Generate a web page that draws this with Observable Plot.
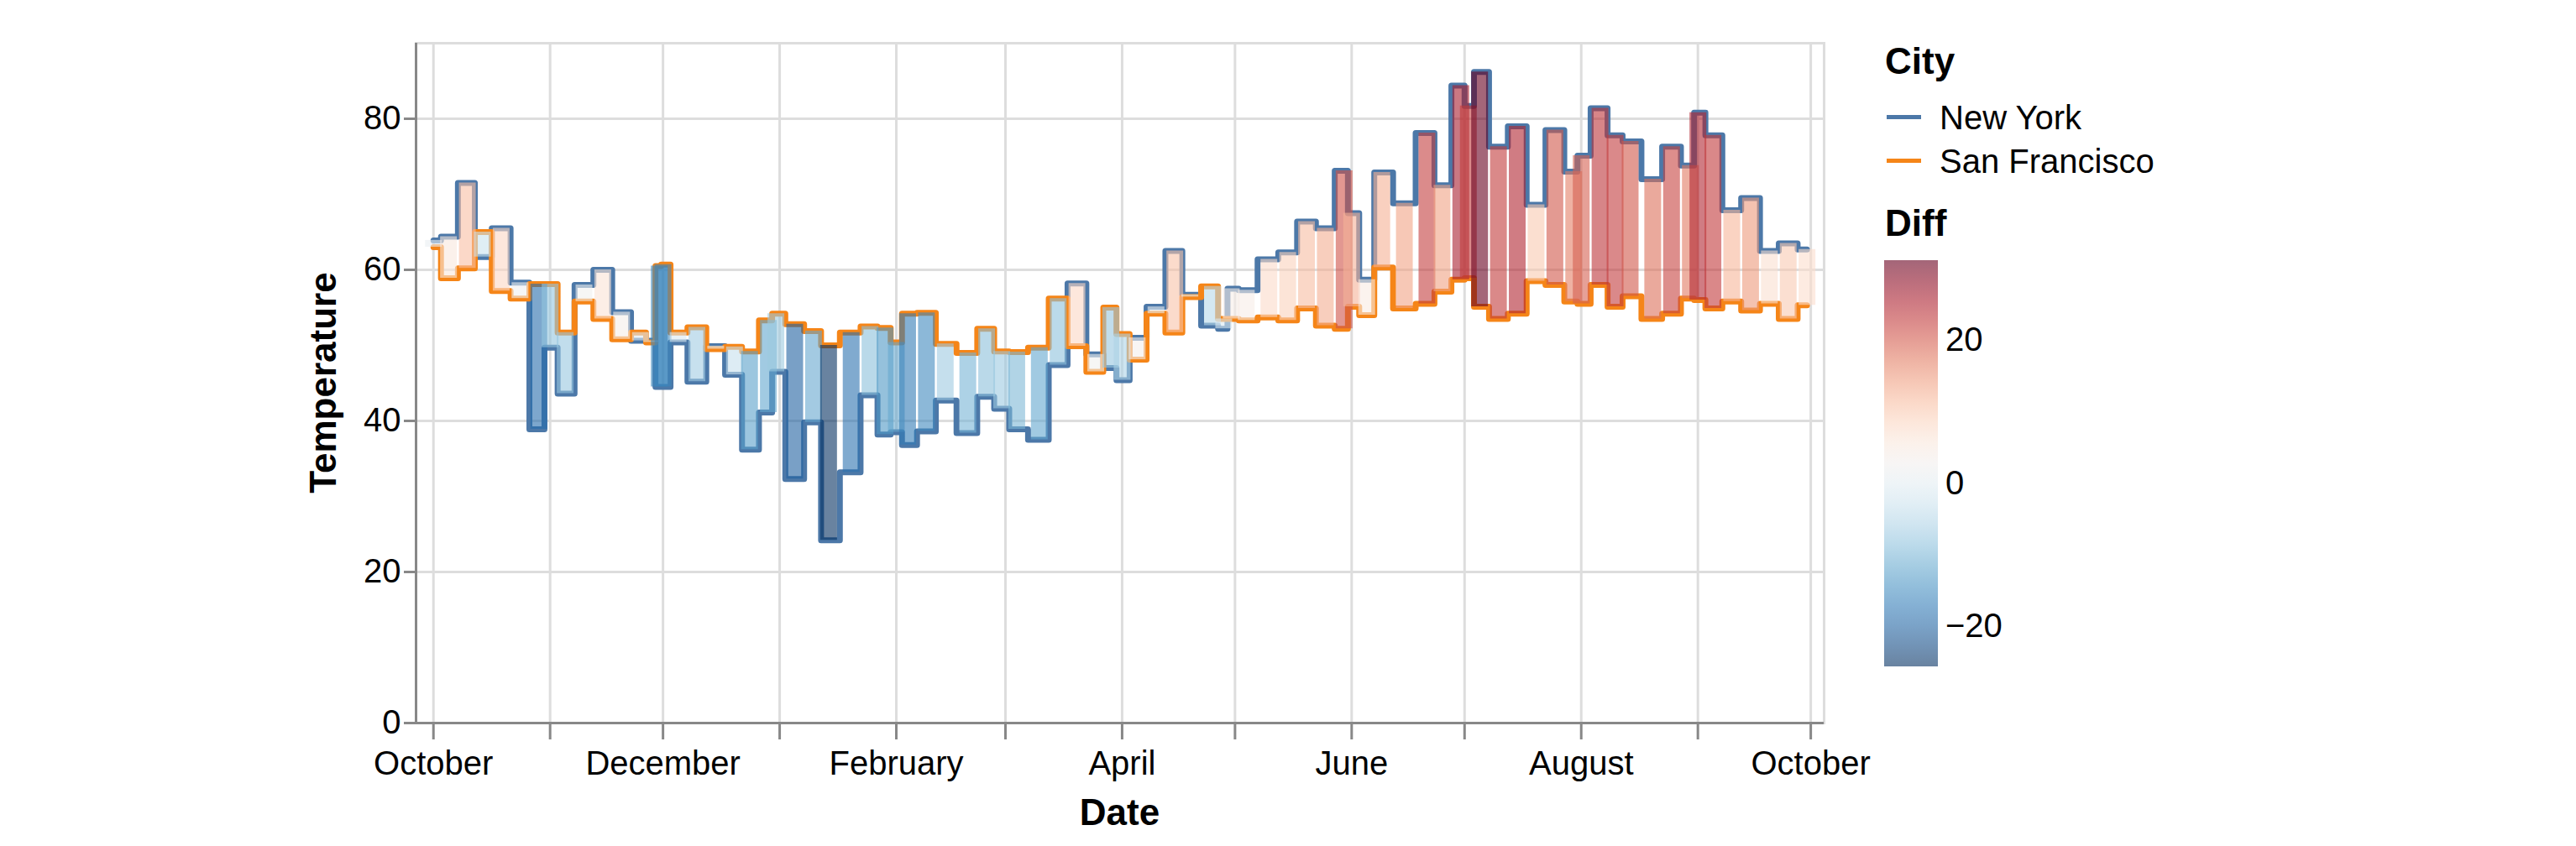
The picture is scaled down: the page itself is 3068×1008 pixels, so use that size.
<!DOCTYPE html>
<html>
<head>
<meta charset="utf-8">
<script src="https://cdn.jsdelivr.net/npm/d3@7"></script>
<script src="https://cdn.jsdelivr.net/npm/@observablehq/plot@0.6"></script>
<style>
  html, body { margin: 0; padding: 0; background: #fff; }
  #wrap { position: relative; width: 3068px; height: 1008px; font-family: "Liberation Sans", Arial, Helvetica, sans-serif; }
  #wrap > svg { position: absolute; left: 0; top: 0; }
</style>
</head>
<body>
<div id="wrap"></div>
<script>
// ---- data ----
const dates = [
  "2011-10-01","2011-10-05","2011-10-10","2011-10-14","2011-10-19","2011-10-24","2011-10-29","2011-11-01","2011-11-05","2011-11-10",
  "2011-11-15","2011-11-20","2011-11-25","2011-11-28","2011-11-30","2011-12-01","2011-12-05","2011-12-10","2011-12-15","2011-12-20",
  "2011-12-24","2011-12-29","2011-12-31","2012-01-05","2012-01-10","2012-01-14","2012-01-20","2012-01-25","2012-01-29","2012-02-01",
  "2012-02-04","2012-02-09","2012-02-14","2012-02-20","2012-02-25","2012-02-29","2012-03-04","2012-03-10","2012-03-15","2012-03-20",
  "2012-03-25","2012-03-29","2012-04-01","2012-04-05","2012-04-10","2012-04-15","2012-04-19","2012-04-25","2012-04-28","2012-04-30",
  "2012-05-04","2012-05-10","2012-05-15","2012-05-20","2012-05-25","2012-05-30","2012-06-01","2012-06-05","2012-06-09","2012-06-15",
  "2012-06-21","2012-06-25","2012-06-30","2012-07-02","2012-07-05","2012-07-10","2012-07-15","2012-07-20","2012-07-25","2012-07-30",
  "2012-08-01","2012-08-06","2012-08-10","2012-08-14","2012-08-20","2012-08-25","2012-08-30","2012-09-01","2012-09-05","2012-09-10",
  "2012-09-15","2012-09-20","2012-09-25","2012-09-30"
];
const newYork = [
  63.9,64.4,71.5,61.7,65.5,58.3,38.9,49.7,43.6,58.0,
  60.0,54.4,50.6,50.6,44.5,44.5,50.4,45.2,49.9,46.1,
  36.2,41.1,46.5,32.3,39.8,24.2,33.2,43.4,38.2,38.5,
  36.8,38.6,42.7,38.4,43.2,41.6,38.9,37.5,47.4,58.2,
  48.8,47.0,45.4,51.0,55.1,62.5,56.7,52.6,52.2,57.5,
  57.3,61.4,62.3,66.4,65.5,73.1,67.5,58.7,72.9,68.8,
  78.1,71.2,84.4,81.7,86.2,76.3,79.0,68.6,78.5,73.0,
  75.1,81.4,77.8,77.0,72.0,76.3,73.8,80.8,77.8,67.9,
  69.5,62.5,63.5,62.7
];
const sanFrancisco = [
  63.0,58.9,60.2,65.0,57.2,56.2,58.1,58.1,51.7,55.8,
  53.5,50.8,51.7,50.4,60.5,60.7,51.7,52.4,49.5,49.8,
  49.2,53.3,54.2,52.8,51.9,50.0,51.7,52.5,52.3,50.4,
  54.2,54.3,50.2,49.0,52.2,49.2,49.1,49.7,56.2,49.9,
  46.5,55.0,51.5,48.1,54.2,51.7,56.4,57.8,53.5,53.5,
  53.3,53.7,53.3,54.9,52.6,52.2,55.1,54.0,60.3,54.9,
  55.5,57.1,58.7,58.9,55.1,53.5,54.2,58.5,58.0,55.8,
  55.5,58.0,55.1,56.5,53.5,54.2,56.2,56.0,54.9,55.8,
  54.6,55.5,53.5,55.3
];
const cities = ["New York", "San Francisco"];
const cityColors = ["#4c78a8", "#f58518"];
const yTicks = [0, 20, 40, 60, 80];
const diffTicks = [-20, 0, 20];

// ---- derived tables ----
const rows = dates.map((d, i) => ({
  date: new Date(d + "T00:00:00Z"),
  ny: newYork[i],
  sf: sanFrancisco[i],
  diff: +(newYork[i] - sanFrancisco[i]).toFixed(1)
}));
const diffExtent = d3.extent(rows, r => r.diff);
const xDomain = [new Date(Date.UTC(2011, 8, 26, 9)), new Date(Date.UTC(2012, 9, 4, 13))];
const months = d3.utcMonth.range(new Date(Date.UTC(2011, 9, 1)), new Date(Date.UTC(2012, 9, 2)));
const barOpacity = 0.6;
const FONT = '"Liberation Sans", Arial, Helvetica, sans-serif';

const chart = Plot.plot({
  width: 3068,
  height: 1008,
  marginLeft: 495,
  marginRight: 896,
  marginTop: 51,
  marginBottom: 147,
  style: { fontFamily: FONT, fontSize: "40px", background: "transparent", overflow: "visible", color: "black" },
  x: { type: "utc", domain: xDomain },
  y: { domain: [0, 90] },
  color: { type: "linear", domain: diffExtent, scheme: "RdBu", reverse: true },
  marks: [
    Plot.gridX(months, { stroke: "#ddd", strokeOpacity: 1, strokeWidth: 3 }),
    Plot.gridY(yTicks, { stroke: "#ddd", strokeOpacity: 1, strokeWidth: 3 }),
    Plot.frame({ stroke: "#ddd", strokeWidth: 3 }),
    Plot.line(rows, { x: "date", y: "ny", curve: "step", stroke: cityColors[0], strokeWidth: 7 }),
    Plot.line(rows, { x: "date", y: "sf", curve: "step", stroke: cityColors[1], strokeWidth: 7 }),
    Plot.ruleX(rows, { x: "date", y1: "sf", y2: "ny", stroke: "diff", strokeWidth: 20, strokeOpacity: barOpacity }),
    Plot.axisX({
      ticks: months,
      tickFormat: d => (d.getUTCMonth() % 2 === 1 ? d3.utcFormat("%B")(d) : ""),
      tickSize: 20, tickPadding: 13, stroke: "#888", strokeWidth: 3, fill: "black",
      fontSize: 40, label: null
    }),
    Plot.axisY({
      ticks: yTicks, tickSize: 14, tickPadding: 4, stroke: "#888", strokeWidth: 3, fill: "black",
      fontSize: 40, label: null
    }),
    Plot.ruleY([0], { stroke: "#888", strokeWidth: 3 }),
    Plot.ruleX([xDomain[0]], { stroke: "#888", strokeWidth: 3 })
  ]
});
document.getElementById("wrap").appendChild(chart);

// ---- titles and legends (overlay) ----
const colorScale = chart.scale("color");
const colorOf = v => (colorScale && colorScale.apply) ? colorScale.apply(v)
  : d3.interpolateRdBu(1 - (v - diffExtent[0]) / (diffExtent[1] - diffExtent[0]));

const ov = d3.select("#wrap").append("svg")
  .attr("width", 3068).attr("height", 1008)
  .style("font-family", FONT);

// axis titles
ov.append("text").attr("x", (495 + 2172) / 2).attr("y", 983)
  .attr("text-anchor", "middle").attr("font-weight", "bold").attr("font-size", 44).text("Date");
ov.append("text").attr("transform", "translate(400,456) rotate(-90)")
  .attr("text-anchor", "middle").attr("font-weight", "bold").attr("font-size", 44).text("Temperature");

// City legend
ov.append("text").attr("x", 2245).attr("y", 88).attr("font-weight", "bold").attr("font-size", 44).text("City");
cities.forEach((c, i) => {
  const y = 139.5 + i * 52;
  ov.append("line").attr("x1", 2247).attr("x2", 2288).attr("y1", y).attr("y2", y)
    .attr("stroke", cityColors[i]).attr("stroke-width", 5);
  ov.append("text").attr("x", 2310).attr("y", y + 14).attr("font-size", 40).text(c);
});

// Diff legend
ov.append("text").attr("x", 2245).attr("y", 281).attr("font-weight", "bold").attr("font-size", 44).text("Diff");
const gy = d3.scaleLinear().domain(diffExtent).range([794, 310]);
const grad = ov.append("defs").append("linearGradient").attr("id", "diffgrad")
  .attr("x1", 0).attr("x2", 0).attr("y1", 1).attr("y2", 0);
d3.range(0, 1.0001, 0.05).forEach(t => {
  const v = diffExtent[0] + t * (diffExtent[1] - diffExtent[0]);
  grad.append("stop").attr("offset", t).attr("stop-color", colorOf(v)).attr("stop-opacity", barOpacity);
});
ov.append("rect").attr("x", 2244).attr("y", gy(diffExtent[1])).attr("width", 64)
  .attr("height", gy(diffExtent[0]) - gy(diffExtent[1])).attr("fill", "url(#diffgrad)");
diffTicks.forEach(t => {
  ov.append("text").attr("x", 2317).attr("y", gy(t)).attr("dy", "0.35em")
    .attr("font-size", 40).text(t < 0 ? "\u2212" + Math.abs(t) : String(t));
});
</script>
</body>
</html>
